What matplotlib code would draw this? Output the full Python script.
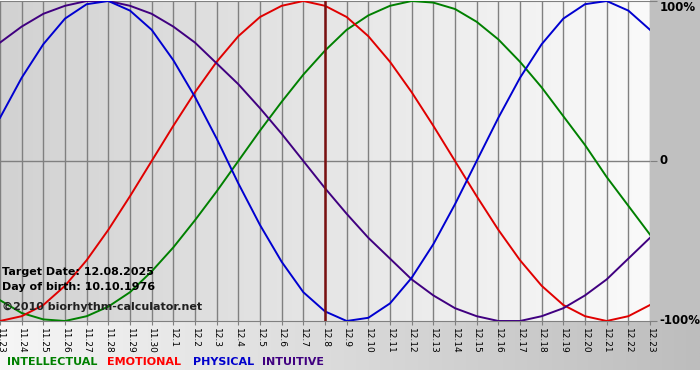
import numpy as np
import matplotlib.pyplot as plt
from matplotlib.colors import LinearSegmentedColormap

dates = ['11.23', '11.24', '11.25', '11.26', '11.27', '11.28', '11.29', '11.30',
         '12.1', '12.2', '12.3', '12.4', '12.5', '12.6', '12.7', '12.8', '12.9',
         '12.10', '12.11', '12.12', '12.13', '12.14', '12.15', '12.16', '12.17',
         '12.18', '12.19', '12.20', '12.21', '12.22', '12.23']

# values, one per day, -1 .. 1
physical = [0.27, 0.52, 0.73, 0.89, 0.98, 1.00, 0.94, 0.82, 0.63, 0.40, 0.14,
            -0.14, -0.40, -0.63, -0.82, -0.94, -1.00, -0.98, -0.89, -0.73, -0.52,
            -0.27, 0.00, 0.27, 0.52, 0.73, 0.89, 0.98, 1.00, 0.94, 0.82]
emotional = [-1.00, -0.97, -0.90, -0.78, -0.62, -0.43, -0.22, 0.00, 0.22, 0.43,
             0.62, 0.78, 0.90, 0.97, 1.00, 0.97, 0.90, 0.78, 0.62, 0.43, 0.22,
             0.00, -0.22, -0.43, -0.62, -0.78, -0.90, -0.97, -1.00, -0.97, -0.90]
intellectual = [-0.87, -0.95, -0.99, -1.00, -0.97, -0.91, -0.82, -0.69, -0.54,
                -0.37, -0.19, 0.00, 0.19, 0.37, 0.54, 0.69, 0.82, 0.91, 0.97,
                1.00, 0.99, 0.95, 0.87, 0.76, 0.62, 0.46, 0.28, 0.10, -0.10,
                -0.28, -0.46]
intuitive = [0.74, 0.84, 0.92, 0.97, 1.00, 1.00, 0.97, 0.92, 0.84, 0.74, 0.61,
             0.48, 0.33, 0.17, 0.00, -0.17, -0.33, -0.48, -0.61, -0.74, -0.84,
             -0.92, -0.97, -1.00, -1.00, -0.97, -0.92, -0.84, -0.74, -0.61, -0.48]
target_idx = 15

W, H = 700, 380
fig = plt.figure(figsize=(7, 3.8), dpi=100)
fig.patch.set_facecolor('white')

# background pieces (right margin + bottom strip gradient)
bg = fig.add_axes([0, 0, 1, 1], zorder=-5)
bg.set_xlim(0, W)
bg.set_ylim(H, 0)
bg.axis('off')
grad = np.linspace(0, 1, 256).reshape(1, -1)
strip_cmap = LinearSegmentedColormap.from_list('strip', ['#f6f6f6', '#bdbdbd'])
bg.imshow(grad, cmap=strip_cmap, extent=[0, W, 370, 321], aspect='auto')
bg.add_patch(plt.Rectangle((650, 0), 50, 321, color='#c0c0c0', lw=0))

ax = fig.add_axes([0, 1 - 321 / H, 650 / W, 320 / H])
x = np.arange(len(dates))
ax.set_xlim(0, len(dates) - 1)
ax.set_ylim(-1.0, 1.0)

plot_cmap = LinearSegmentedColormap.from_list('plot', ['#d2d2d2', '#fafafa'])
ax.imshow(grad, cmap=plot_cmap, extent=[0, len(dates) - 1, -1, 1],
          aspect='auto', zorder=0)

for xi in x:
    ax.axvline(xi, color='#808080', lw=1, zorder=1)
ax.axhline(0, color='#808080', lw=1, zorder=1)

ax.plot(x, intellectual, color='#008000', lw=1.4, zorder=3)
ax.plot(x, emotional, color='#e00000', lw=1.4, zorder=3)
ax.plot(x, intuitive, color='#400080', lw=1.4, zorder=3)
ax.plot(x, physical, color='#0000d0', lw=1.4, zorder=3)
ax.axvline(target_idx, color='#7a1010', lw=1.8, zorder=4)

for s in ['left', 'right']:
    ax.spines[s].set_visible(False)
ax.spines['top'].set_color('#808080')
ax.spines['bottom'].set_color('#808080')

ax.set_xticks(x)
ax.set_xticklabels(dates, rotation=270, fontsize=6.5)
ax.tick_params(axis='x', length=3, color='#808080', pad=2)
ax.yaxis.tick_right()
ax.set_yticks([-1, 0, 1])
ax.set_yticklabels(['-100%', '0', '100%'], fontsize=8.5, fontweight='bold')
ax.tick_params(axis='y', length=5, color='#808080', pad=2)
for lab, va in zip(ax.get_yticklabels(), ['center', 'center', 'top']):
    lab.set_va(va)

fig.text(2 / W, 1 - 272 / H, 'Target Date: 12.08.2025', fontsize=8,
         fontweight='bold', va='center')
fig.text(2 / W, 1 - 287 / H, 'Day of birth: 10.10.1976', fontsize=8,
         fontweight='bold', va='center')
fig.text(2 / W, 1 - 307 / H, '\u00a92010 biorhythm-calculator.net', fontsize=8,
         fontweight='bold', va='center', color='#202020')

legend = [('INTELLECTUAL', '#008000', 7), ('EMOTIONAL', '#ff0000', 107),
          ('PHYSICAL', '#0000cc', 193), ('INTUITIVE', '#400080', 262)]
for name, col, px in legend:
    fig.text(px / W, 1 - 362 / H, name, color=col, fontsize=8,
             fontweight='bold', va='center')

fig.savefig('out.png', dpi=100)
